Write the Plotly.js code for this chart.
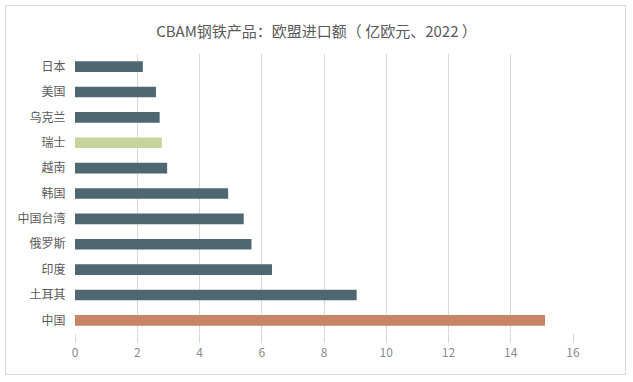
<!DOCTYPE html>
<html>
<head>
<meta charset="utf-8">
<script src="https://cdn.plot.ly/plotly-3.0.1.min.js"></script>
<style>
  html, body { margin: 0; padding: 0; background: #ffffff; }
  #wrap { position: relative; width: 633px; height: 382px; }
  #chart { width: 633px; height: 382px; }
  #frame { position: absolute; left: 5px; top: 5px; width: 621px; height: 370px;
           border: 1px solid #d9d9d9; pointer-events: none; box-sizing: border-box; }
</style>
</head>
<body>
<div id="wrap">
  <div id="chart"></div>
  <div id="frame"></div>
</div>
<script>
// Data (top to bottom as shown)
const categories = ["日本", "美国", "乌克兰", "瑞士", "越南", "韩国", "中国台湾", "俄罗斯", "印度", "土耳其", "中国"];
const values = [2.18, 2.6, 2.72, 2.79, 2.96, 4.92, 5.42, 5.67, 6.33, 9.05, 15.1];
const barColors = ["#4e6770", "#4e6770", "#4e6770", "#c6d49b", "#4e6770", "#4e6770", "#4e6770", "#4e6770", "#4e6770", "#4e6770", "#c98468"];
const xTicks = [0, 2, 4, 6, 8, 10, 12, 14, 16];
const titleText = "CBAM钢铁产品：欧盟进口额（ 亿欧元、2022 ）";

const font = "Noto Sans CJK SC, Noto Sans, sans-serif";

Plotly.newPlot("chart", [{
  type: "bar",
  orientation: "h",
  y: categories,
  x: values,
  marker: { color: barColors, line: { width: 0 } },
  hoverinfo: "x+y"
}], {
  width: 633,
  height: 382,
  margin: { l: 75, r: 60, t: 54, b: 49 },
  paper_bgcolor: "#ffffff",
  plot_bgcolor: "#ffffff",
  bargap: 0.58,
  showlegend: false,
  title: {
    text: titleText,
    x: 0.5, xanchor: "center",
    y: 1 - 32 / 382, yanchor: "middle",
    font: { family: font, size: 15, color: "#595959" }
  },
  xaxis: {
    range: [0, 16],
    tickvals: xTicks,
    ticktext: xTicks.map(String),
    showgrid: true,
    gridcolor: "#d9d9d9",
    gridwidth: 1,
    zeroline: false,
    showline: false,
    ticks: "outside",
    ticklen: 9,
    tickcolor: "#d9d9d9",
    tickfont: { family: font, size: 12, color: "#8a8a8a" },
    fixedrange: true
  },
  yaxis: {
    type: "category",
    autorange: "reversed",
    showgrid: false,
    zeroline: false,
    showline: false,
    ticks: "outside",
    ticklen: 6,
    tickcolor: "rgba(0,0,0,0)",
    tickfont: { family: font, size: 12, color: "#595959" },
    fixedrange: true
  }
}, { displayModeBar: false, staticPlot: true });
</script>
</body>
</html>
